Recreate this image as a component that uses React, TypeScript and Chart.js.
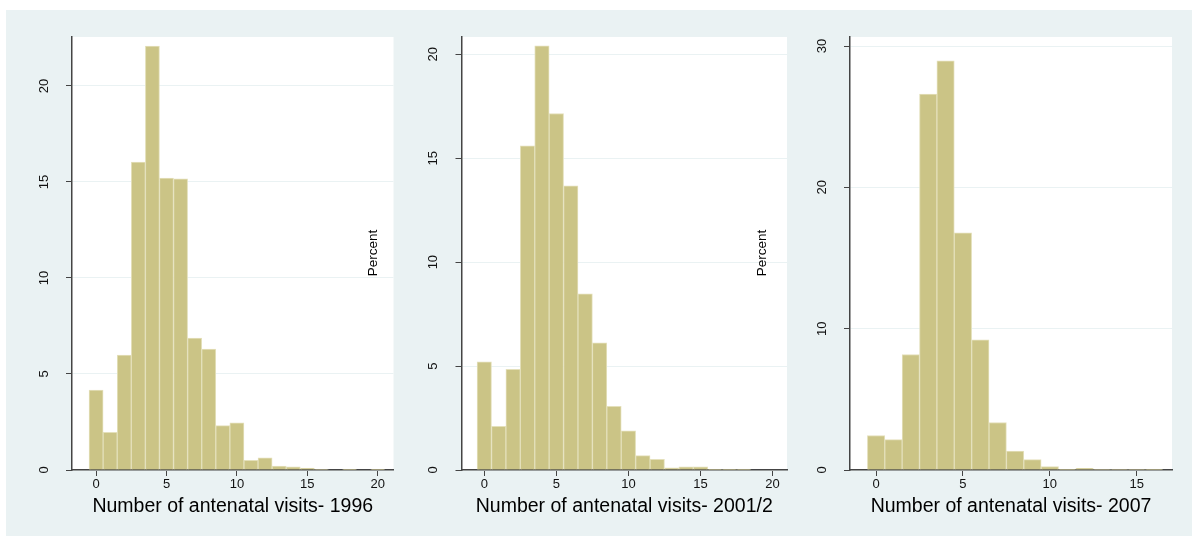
import React, { useEffect, useRef } from "react";
import { Chart, registerables } from "chart.js";

Chart.register(...registerables);

const FONT = '"Liberation Sans", Arial, Helvetica, sans-serif';

// 1996
const bins1996 = [0, 1, 2, 3, 4, 5, 6, 7, 8, 9, 10, 11, 12, 13, 14, 15, 16, 17, 18, 19, 20];
const pct1996 = [4.16, 1.96, 5.98, 16.03, 22.08, 15.2, 15.16, 6.87, 6.3, 2.31, 2.46, 0.5, 0.64, 0.21, 0.16, 0.1, 0.03, 0, 0.04, 0, 0.04];
const xTicks1996 = [0, 5, 10, 15, 20];
const yTicks1996 = [0, 5, 10, 15, 20];

// 2001/2
const bins2001 = [0, 1, 2, 3, 4, 5, 6, 7, 8, 9, 10, 11, 12, 13, 14, 15, 16, 17, 18];
const pct2001 = [5.2, 2.1, 4.84, 15.6, 20.4, 17.15, 13.67, 8.47, 6.12, 3.06, 1.88, 0.69, 0.51, 0.1, 0.15, 0.15, 0.03, 0.03, 0.03];
const xTicks2001 = [0, 5, 10, 15, 20];
const yTicks2001 = [0, 5, 10, 15, 20];

// 2007
const bins2007 = [0, 1, 2, 3, 4, 5, 6, 7, 8, 9, 10, 11, 12, 13, 14, 15, 16];
const pct2007 = [2.44, 2.15, 8.17, 26.6, 28.96, 16.78, 9.21, 3.36, 1.33, 0.73, 0.24, 0.02, 0.12, 0.03, 0.03, 0.03, 0.02];
const xTicks2007 = [0, 5, 10, 15];
const yTicks2007 = [0, 10, 20, 30];

const decorPlugin = {
  id: "decor",
  beforeDraw(chart: any) {
    const { ctx, chartArea: a } = chart;
    ctx.save();
    ctx.fillStyle = "#ffffff";
    ctx.fillRect(a.left, a.top, a.right - a.left, a.bottom - a.top);
    ctx.restore();
  },
  afterDraw(chart: any, _args: any, opts: any) {
    const { ctx, chartArea: a } = chart;
    const ys = chart.scales.y;
    ctx.save();
    ctx.font = `13px ${FONT}`;
    ctx.fillStyle = "#111";
    ctx.textAlign = "center";
    ctx.textBaseline = "middle";
    ys.ticks.forEach((t: any) => {
      const py = ys.getPixelForValue(t.value);
      ctx.save();
      ctx.translate(a.left - 28, py);
      ctx.rotate(-Math.PI / 2);
      ctx.fillText(String(t.value), 0, 0);
      ctx.restore();
    });
    if (opts && opts.percentX != null) {
      ctx.save();
      ctx.font = `13.5px ${FONT}`;
      ctx.fillStyle = "#000";
      ctx.translate(opts.percentX, opts.percentY);
      ctx.rotate(-Math.PI / 2);
      ctx.fillText("Percent", 0, 0);
      ctx.restore();
    }
    ctx.restore();
  },
};

type HistProps = {
  left: number;
  width: number;
  bins: number[];
  values: number[];
  xMin: number;
  xMax: number;
  xTicks: number[];
  yMax: number;
  yTicks: number[];
  title: string;
  padL: number;
  padR: number;
  percentX?: number;
};

function Hist(p: HistProps) {
  const ref = useRef<HTMLCanvasElement | null>(null);
  useEffect(() => {
    if (!ref.current) return;
    const chart = new Chart(ref.current, {
      type: "bar",
      data: {
        datasets: [
          {
            data: p.bins.map((b, i) => ({ x: b, y: p.values[i] })),
            backgroundColor: "#cbc486",
            borderColor: "#e4e0bb",
            borderWidth: 1,
            barPercentage: 1,
            categoryPercentage: 1,
          } as any,
        ],
      },
      options: {
        animation: false,
        responsive: false,
        maintainAspectRatio: false,
        layout: { padding: { left: p.padL, right: p.padR, top: 37, bottom: 18 } },
        plugins: {
          legend: { display: false },
          tooltip: { enabled: false },
          decor: { percentX: p.percentX, percentY: 253 },
        } as any,
        scales: {
          x: {
            type: "linear",
            min: p.xMin,
            max: p.xMax,
            offset: false,
            grid: {
              display: true,
              drawOnChartArea: false,
              drawTicks: true,
              tickLength: 6,
              tickColor: "#444",
              offset: false,
            } as any,
            border: { display: true, color: "#444", width: 1.5 },
            ticks: {
              font: { size: 13, family: FONT },
              color: "#111",
              padding: 1,
              maxRotation: 0,
              autoSkip: false,
            },
            afterBuildTicks: (s: any) => {
              s.ticks = p.xTicks.map((v) => ({ value: v }));
            },
            afterFit: (s: any) => {
              s.height = 48;
            },
            title: {
              display: true,
              text: p.title,
              font: { size: 19.5, family: FONT },
              color: "#000",
              padding: 0,
            },
          },
          y: {
            type: "linear",
            min: 0,
            max: p.yMax,
            grid: {
              display: true,
              drawOnChartArea: true,
              color: "#eaf2f3",
              drawTicks: true,
              tickLength: 6,
              tickColor: "#444",
            },
            border: { display: true, color: "#444", width: 1.5 },
            ticks: { display: false },
            afterBuildTicks: (s: any) => {
              s.ticks = p.yTicks.map((v) => ({ value: v }));
            },
            afterFit: (s: any) => {
              s.width = 40;
            },
          },
        },
      },
      plugins: [decorPlugin],
    });
    return () => chart.destroy();
  }, []);
  return (
    <canvas
      ref={ref}
      width={p.width}
      height={536}
      style={{ position: "absolute", left: p.left, top: 0, width: p.width, height: 536 }}
    />
  );
}

export default function App() {
  return (
    <div
      style={{
        position: "absolute",
        left: 0,
        top: 0,
        width: 1192,
        height: 536,
        background: "#ffffff",
        overflow: "hidden",
      }}
    >
      <div
        style={{
          position: "absolute",
          left: 6,
          top: 10,
          width: 1186,
          height: 526,
          background: "#eaf2f3",
        }}
      />
      <Hist
        left={6}
        width={400}
        bins={bins1996}
        values={pct1996}
        xMin={-1.71}
        xMax={21.12}
        xTicks={xTicks1996}
        yMax={22.55}
        yTicks={yTicks1996}
        title="Number of antenatal visits- 1996"
        padL={26}
        padR={12.5}
        percentX={367}
      />
      <Hist
        left={406}
        width={390}
        bins={bins2001}
        values={pct2001}
        xMin={-1.58}
        xMax={21.0}
        xTicks={xTicks2001}
        yMax={20.83}
        yTicks={yTicks2001}
        title="Number of antenatal visits- 2001/2"
        padL={15.5}
        padR={9}
        percentX={356}
      />
      <Hist
        left={796}
        width={396}
        bins={bins2007}
        values={pct2007}
        xMin={-1.5}
        xMax={17.03}
        xTicks={xTicks2007}
        yMax={30.64}
        yTicks={yTicks2007}
        title="Number of antenatal visits- 2007"
        padL={14}
        padR={20}
      />
    </div>
  );
}
